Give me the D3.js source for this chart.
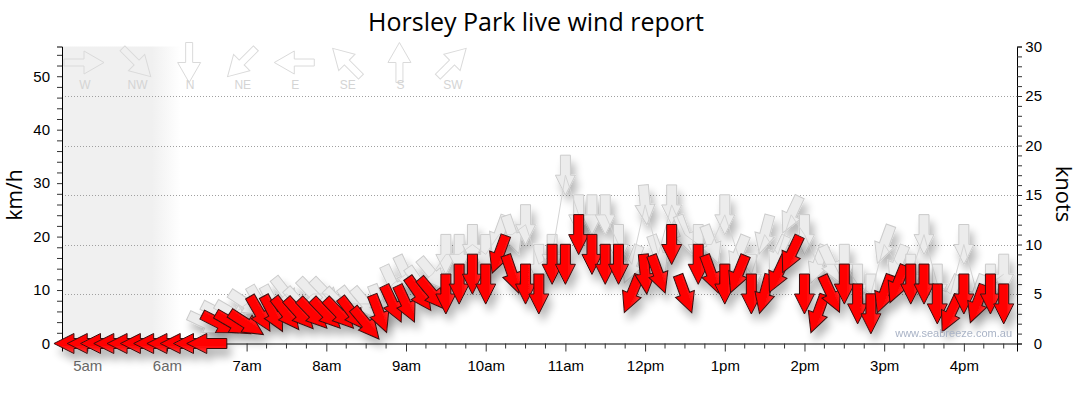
<!DOCTYPE html>
<html><head><meta charset="utf-8">
<script src="https://cdn.jsdelivr.net/npm/d3@7"></script>
<style>body{margin:0;background:#fff}svg{display:block}</style>
</head><body><svg id="c" width="1080" height="414"></svg>
<script>
// ---------- data ----------
const times = ["04:50","05:00","05:10","05:20","05:30","05:40","05:50","06:00","06:10","06:20","06:30",
  "06:40","06:50","07:00","07:10","07:20","07:30","07:40","07:50","08:00","08:10","08:20","08:30","08:40","08:50",
  "09:00","09:10","09:20","09:30","09:40","09:50","10:00","10:10","10:20","10:30","10:40","10:50",
  "11:00","11:10","11:20","11:30","11:40","11:50","12:00","12:10","12:20","12:30","12:40","12:50",
  "13:00","13:10","13:20","13:30","13:40","13:50","14:00","14:10","14:20","14:30","14:40","14:50",
  "15:00","15:10","15:20","15:30","15:40","15:50","16:00","16:10","16:20","16:30"];
const speedKnots = [0,0,0,0,0,0,0,0,0,0,0,
  2,2,2,3,3,3,3,3,3,3,3,2,3,4,
  4,5,5,5,6,7,6,9,7,6,5,8,
  8,11,9,8,8,5,7,7,10,5,8,7,
  6,7,5,5,7,9,5,3,5,6,4,3,
  5,6,6,6,4,3,5,4,5,4];
const directions = [90,90,90,90,90,90,90,90,90,90,90,
  297,300,303,330,332,322,318,316,316,316,322,320,339,335,
  335,325,320,0,0,0,0,20,341,0,0,0,
  0,0,0,0,0,22,355,340,0,340,0,340,
  0,22,0,15,25,25,0,20,335,0,0,0,
  20,22,0,0,0,25,0,20,0,0];
const gustKnots = [null,null,null,null,null,null,null,null,null,null,2,
  3,3,4,4,4,5,4,5,5,4,4,4,4,6,
  7,6,7,9,9,10,9,11,11,12,8,9,
  17,13,13,13,10,8,14,9,14,11,10,10,
  13,9,7,11,9,13,11,8,8,8,6,5,
  10,8,7,11,6,5,10,5,6,7];
const gustDirections = [90,90,90,90,90,90,90,90,90,90,295,
  297,300,303,330,332,322,318,316,316,316,322,320,339,335,
  335,325,320,0,0,0,0,20,341,0,0,0,
  0,0,0,0,0,22,355,340,0,340,0,340,
  0,22,0,15,25,25,0,20,335,0,0,0,
  20,22,0,0,0,25,0,20,0,0];
const kmhTicks = [0,10,20,30,40,50];
const knotTicks = [0,5,10,15,20,25,30];
const hourTicks = [5,6,7,8,9,10,11,12,13,14,15,16];
const hourLabels = ["5am","6am","7am","8am","9am","10am","11am","12pm","1pm","2pm","3pm","4pm"];
const legendLabels = ["W","NW","N","NE","E","SE","S","SW"];
const legendAngles = [270,315,0,45,90,135,180,225];
const sunrise = "06:10";
const chartTitle = "Horsley Park live wind report";

// ---------- setup ----------
const svg = d3.select("#c");
const day = (h, m) => new Date(2000, 0, 1, h, m);
const toDate = s => { const [h, m] = s.split(":").map(Number); return day(h, m); };
const L = 62, R = 1017, T = 46.5, B = 343.5;
const x = d3.scaleTime().domain([day(4, 41), day(16, 40)]).range([L, R]);
const yKn = d3.scaleLinear().domain([0, 30]).range([B, T]);
const yKm = d3.scaleLinear().domain([0, 30 * 1.852]).range([B, T]);
const data = times.map((t, i) => ({t: toDate(t), s: speedKnots[i], d: directions[i], g: gustKnots[i], gd: gustDirections[i]}));

const defs = svg.append("defs");
const ng = defs.append("linearGradient").attr("id", "night").attr("x1", 0).attr("x2", 1).attr("y1", 0).attr("y2", 0);
ng.append("stop").attr("offset", 0).attr("stop-color", "#f0f0f0");
ng.append("stop").attr("offset", 0.76).attr("stop-color", "#f0f0f0");
ng.append("stop").attr("offset", 1).attr("stop-color", "#ffffff");
const rg = defs.append("linearGradient").attr("id", "redg").attr("x1", 0).attr("x2", 1).attr("y1", 0).attr("y2", 0);
rg.append("stop").attr("offset", 0).attr("stop-color", "#ff0000");
rg.append("stop").attr("offset", 0.6).attr("stop-color", "#ff0000");
rg.append("stop").attr("offset", 1).attr("stop-color", "#ff3a3a");
const f = defs.append("filter").attr("id", "sh").attr("x", "-10%").attr("y", "-10%").attr("width", "130%").attr("height", "140%");
f.append("feGaussianBlur").attr("in", "SourceAlpha").attr("stdDeviation", 4.5);
f.append("feOffset").attr("dx", 4).attr("dy", 8);
f.append("feComponentTransfer").append("feFuncA").attr("type", "linear").attr("slope", 0.28);
const fm = f.append("feMerge"); fm.append("feMergeNode"); fm.append("feMergeNode").attr("in", "SourceGraphic");

// night shading
svg.append("rect").attr("x", L).attr("y", T).attr("width", x(toDate(sunrise)) - L).attr("height", B - T).attr("fill", "url(#night)");

// grid (knots)
svg.append("g").selectAll("line").data(knotTicks.filter(k => k > 0 && k < 30)).join("line")
  .attr("x1", L).attr("x2", R).attr("y1", d => Math.round(yKn(d)) + 0.5).attr("y2", d => Math.round(yKn(d)) + 0.5)
  .attr("stroke", "#a0a0a0").attr("stroke-dasharray", "1,2");

// legend
const arrowPath = (sw, hw, len) => { const h = len / 2; return `M${-sw},${-h}L${sw},${-h}L${sw},0L${hw},0L0,${h}L${-hw},0L${-sw},0Z`; };
const lx = d3.scaleLinear().domain([0, 7]).range([84, 452]);
const lg = svg.append("g");
lg.selectAll("path").data(legendAngles).join("path")
  .attr("d", arrowPath(3.5, 11.5, 40))
  .attr("transform", (d, i) => `translate(${lx(i)},62.5) rotate(${d})`)
  .attr("fill", "none").attr("stroke", "#dadada");
lg.selectAll("text").data(legendLabels).join("text")
  .attr("x", (d, i) => lx(i) + 1).attr("y", 89).attr("text-anchor", "middle")
  .attr("font-family", "Liberation Sans, Arial, sans-serif").attr("font-size", 12).attr("fill", "#d4d4d4").text(d => d);

// axes
const font = "Liberation Sans, Arial, sans-serif";
const ax = svg.append("g").attr("font-family", font);
const left = ax.append("g").attr("transform", `translate(${L},0)`)
  .call(d3.axisLeft(yKm).tickValues(d3.range(0, 56, 2)).tickSize(5).tickPadding(7).tickFormat(d => kmhTicks.includes(d) ? d : ""));
const right = ax.append("g").attr("transform", `translate(${R},0)`)
  .call(d3.axisRight(yKn).tickValues(d3.range(0, 31, 1)).tickSize(5).tickPadding(4).tickFormat(d => knotTicks.includes(d) ? d : ""));
right.selectAll("text").attr("text-anchor", "end").attr("dx", 16);
const hourDates = hourTicks.map(h => day(h, 0));
const quarterDates = d3.range(0, 12 * 4 + 1).map(i => new Date(day(4, 45).getTime() + i * 15 * 60000)).filter(d => d <= day(16, 40) && d.getMinutes() !== 0);
const bottom = ax.append("g").attr("transform", `translate(0,${B})`)
  .call(d3.axisBottom(x).tickValues(hourDates).tickSize(8).tickPadding(9).tickFormat((d, i) => hourLabels[i]));
bottom.append("g").selectAll("line").data(quarterDates).join("line")
  .attr("x1", d => x(d)).attr("x2", d => x(d)).attr("y1", 0).attr("y2", 5).attr("stroke", "#333");
bottom.selectAll(".tick text").attr("fill", d => d < toDate(sunrise) ? "#6a6a6a" : "#000");
[left, right, bottom].forEach(g => {
  g.selectAll("text").attr("font-size", 15).attr("font-family", font);
  g.selectAll("line").attr("stroke", "#333");
  g.select(".domain").attr("stroke", "#000");
});
left.selectAll(".tick text").attr("fill", "#000");
right.selectAll(".tick text").attr("fill", "#000");

// gust arrows
const gustData = data.filter(d => d.g != null);
svg.append("g").attr("filter", "url(#sh)").selectAll("path").data(gustData).join("path")
  .attr("d", arrowPath(5, 10, 40))
  .attr("transform", d => `translate(${x(d.t)},${yKn(d.g)}) rotate(${d.gd})`)
  .attr("fill", "#ececec").attr("stroke", "#cccccc").attr("stroke-width", 1);
svg.append("path").datum(gustData)
  .attr("d", d3.line().x(d => x(d.t)).y(d => yKn(d.g)))
  .attr("fill", "none").attr("stroke", "#d4d4d4").attr("stroke-width", 1);

// wind arrows
svg.append("g").attr("filter", "url(#sh)").selectAll("path").data(data).join("path")
  .attr("d", arrowPath(5, 10, 40))
  .attr("transform", d => `translate(${x(d.t)},${yKn(d.s)}) rotate(${d.d})`)
  .attr("fill", "url(#redg)").attr("stroke", "#3a1010").attr("stroke-width", 1);

// titles
svg.append("text").attr("x", 536).attr("y", 31).attr("text-anchor", "middle")
  .attr("font-family", "Open Sans, sans-serif").attr("font-size", 25).attr("fill", "#000").text(chartTitle);
svg.append("text").attr("transform", `translate(22,195) rotate(-90)`).attr("text-anchor", "middle")
  .attr("font-family", "Open Sans, sans-serif").attr("font-size", 21).attr("fill", "#000").text("km/h");
svg.append("text").attr("transform", `translate(1056,194) rotate(90)`).attr("text-anchor", "middle")
  .attr("font-family", "Open Sans, sans-serif").attr("font-size", 22).attr("fill", "#000").text("knots");
svg.append("text").attr("x", 1012).attr("y", 337).attr("text-anchor", "end")
  .attr("font-family", font).attr("font-size", 11).attr("fill", "#a9b3c6").text("www.seabreeze.com.au");
</script></body></html>
